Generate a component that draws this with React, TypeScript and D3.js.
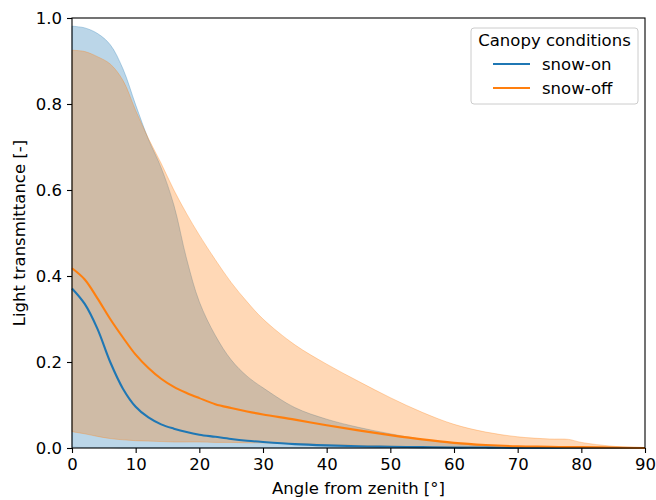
import React, { useEffect, useRef } from "react";
import * as d3 from "d3";

// angle from zenith, degrees
const angles = [0, 2, 4, 6, 8, 10, 12, 14, 16, 18, 20, 22.5, 25, 27.5, 30, 35, 40, 45, 50, 55, 60, 65, 70, 75, 78, 80, 85, 90];

const snowOnMean = [0.371, 0.335, 0.277, 0.2, 0.138, 0.096, 0.071, 0.055, 0.045, 0.037, 0.031, 0.026, 0.021, 0.017, 0.014, 0.009, 0.006, 0.004, 0.003, 0.002, 0.001, 0.001, 0, 0, 0, 0, 0, 0];
const snowOnUpper = [0.981, 0.977, 0.964, 0.938, 0.882, 0.798, 0.718, 0.652, 0.565, 0.44, 0.34, 0.262, 0.205, 0.167, 0.14, 0.094, 0.067, 0.048, 0.033, 0.02, 0.011, 0.005, 0.002, 0, 0, 0, 0, 0];
const snowOnLower = [0.002, 0.001, 0.001, 0.001, 0, 0, 0, 0, 0, 0, 0, 0, 0, 0, 0, 0, 0, 0, 0, 0, 0, 0, 0, 0, 0, 0, 0, 0];

const snowOffMean = [0.418, 0.392, 0.348, 0.3, 0.257, 0.217, 0.186, 0.161, 0.142, 0.128, 0.116, 0.102, 0.093, 0.085, 0.078, 0.066, 0.053, 0.041, 0.03, 0.02, 0.012, 0.007, 0.004, 0.003, 0.002, 0.002, 0.001, 0];
const snowOffUpper = [0.925, 0.922, 0.91, 0.893, 0.855, 0.785, 0.72, 0.662, 0.6, 0.545, 0.495, 0.438, 0.385, 0.34, 0.3, 0.24, 0.195, 0.155, 0.117, 0.083, 0.055, 0.037, 0.026, 0.021, 0.02, 0.013, 0.004, 0];
const snowOffLower = [0.038, 0.033, 0.027, 0.022, 0.019, 0.017, 0.016, 0.015, 0.014, 0.014, 0.014, 0.013, 0.013, 0.012, 0.012, 0.01, 0.008, 0.006, 0.004, 0.003, 0.002, 0.001, 0, 0, 0, 0, 0, 0];

const xTicks = [0, 10, 20, 30, 40, 50, 60, 70, 80, 90];
const yTicks = [0, 0.2, 0.4, 0.6, 0.8, 1.0];

const conditions = ["snow-on", "snow-off"];
const colors = ["#1f77b4", "#ff7f0e"];

const App = () => {
  const ref = useRef<SVGSVGElement>(null);

  useEffect(() => {
    const width = 656;
    const height = 500;
    const margin = { top: 18, right: 11, bottom: 52, left: 72 };
    const font = "DejaVu Sans, sans-serif";
    const fs = 16.5;

    const svg = d3.select(ref.current);
    svg.selectAll("*").remove();

    const x = d3.scaleLinear().domain([0, 90]).range([margin.left, width - margin.right]);
    const y = d3.scaleLinear().domain([0, 1]).range([height - margin.bottom, margin.top]);

    const series = [
      { mean: snowOnMean, upper: snowOnUpper, lower: snowOnLower },
      { mean: snowOffMean, upper: snowOffUpper, lower: snowOffLower },
    ];

    const curve = d3.curveCatmullRom.alpha(0.5);
    const g = svg.append("g");

    // bands first
    series.forEach((s, i) => {
      const area = d3
        .area<number>()
        .x((_, j) => x(angles[j]))
        .y0((_, j) => y(s.lower[j]))
        .y1((_, j) => y(s.upper[j]))
        .curve(curve);
      g.append("path")
        .attr("d", area(s.mean))
        .attr("fill", colors[i])
        .attr("fill-opacity", 0.3)
        .attr("stroke", colors[i])
        .attr("stroke-opacity", 0.3)
        .attr("stroke-width", 1);
    });

    // mean lines
    series.forEach((s, i) => {
      const line = d3
        .line<number>()
        .x((_, j) => x(angles[j]))
        .y((d) => y(d))
        .curve(curve);
      g.append("path")
        .attr("d", line(s.mean))
        .attr("fill", "none")
        .attr("stroke", colors[i])
        .attr("stroke-width", 2.1);
    });

    // axes
    const xAxis = svg
      .append("g")
      .attr("transform", `translate(0,${height - margin.bottom})`)
      .call(d3.axisBottom(x).tickValues(xTicks).tickSize(5).tickPadding(5).tickFormat(d3.format("d")));
    const yAxis = svg
      .append("g")
      .attr("transform", `translate(${margin.left},0)`)
      .call(d3.axisLeft(y).tickValues(yTicks).tickSize(5).tickPadding(5).tickFormat(d3.format(".1f")));

    [xAxis, yAxis].forEach((ax) => {
      ax.select(".domain").remove();
      ax.selectAll("text").attr("font-family", font).attr("font-size", fs).attr("fill", "#000");
      ax.selectAll("line").attr("stroke", "#000").attr("stroke-width", 1.1);
    });

    // frame
    svg
      .append("rect")
      .attr("x", margin.left)
      .attr("y", margin.top)
      .attr("width", width - margin.left - margin.right)
      .attr("height", height - margin.top - margin.bottom)
      .attr("fill", "none")
      .attr("stroke", "#000")
      .attr("stroke-width", 1.1);

    // axis titles
    svg
      .append("text")
      .attr("x", (margin.left + width - margin.right) / 2)
      .attr("y", 494)
      .attr("text-anchor", "middle")
      .attr("font-family", font)
      .attr("font-size", fs)
      .text("Angle from zenith [°]");
    svg
      .append("text")
      .attr("transform", `translate(25,${(margin.top + height - margin.bottom) / 2}) rotate(-90)`)
      .attr("text-anchor", "middle")
      .attr("font-family", font)
      .attr("font-size", fs)
      .text("Light transmittance [-]");

    // legend
    const legend = svg.append("g").attr("transform", "translate(471,28)");
    legend
      .append("rect")
      .attr("width", 167)
      .attr("height", 76)
      .attr("rx", 3)
      .attr("fill", "#fff")
      .attr("fill-opacity", 0.8)
      .attr("stroke", "#ccc")
      .attr("stroke-width", 1);
    legend
      .append("text")
      .attr("x", 83.5)
      .attr("y", 18)
      .attr("text-anchor", "middle")
      .attr("font-family", font)
      .attr("font-size", fs)
      .text("Canopy conditions");
    conditions.forEach((c, i) => {
      const row = legend.append("g").attr("transform", `translate(0,${36 + i * 24})`);
      row
        .append("line")
        .attr("x1", 22)
        .attr("x2", 59)
        .attr("stroke", colors[i])
        .attr("stroke-width", 2.1);
      row
        .append("text")
        .attr("x", 71)
        .attr("y", 6)
        .attr("font-family", font)
        .attr("font-size", fs)
        .text(c);
    });
  }, []);

  return (
    <svg
      ref={ref}
      width={656}
      height={500}
      style={{ position: "absolute", left: 0, top: 0, background: "#fff" }}
    />
  );
};

export default App;
